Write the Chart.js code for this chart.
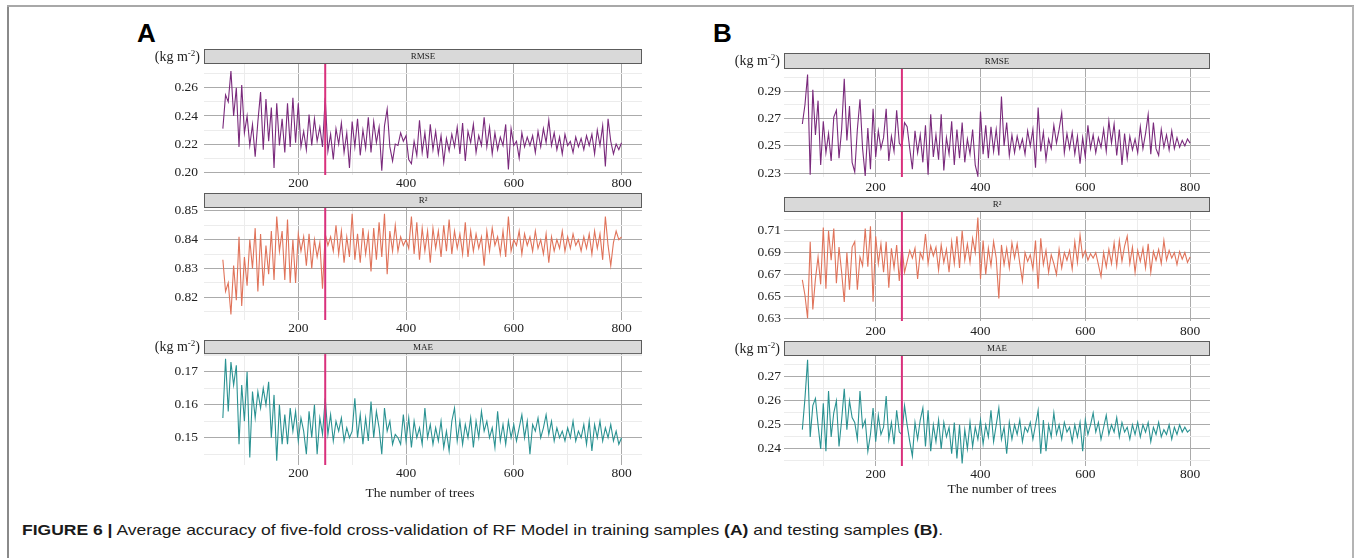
<!DOCTYPE html>
<html>
<head>
<meta charset="utf-8">
<script src="https://cdn.jsdelivr.net/npm/chart.js@4.4.1/dist/chart.umd.min.js"></script>
<style>
  html,body{margin:0;padding:0;background:#fff;}
  body{width:1357px;height:558px;position:relative;overflow:hidden;font-family:"Liberation Serif","DejaVu Serif",serif;color:#222;}
  canvas{position:absolute;}
  .txt{position:absolute;white-space:nowrap;line-height:18px;}
  .unit{font-size:14px;text-align:right;}
  .unit sup{font-size:9px;vertical-align:5px;line-height:0;}
  .ttl{font-size:13.5px;}
  .lab{position:absolute;font-family:"Liberation Sans",Arial,sans-serif;font-weight:bold;font-size:26px;line-height:26px;color:#000;}
  #frameL{position:absolute;left:7px;top:6px;width:2px;height:560px;background:#8a8a8a;}
  #frameT{position:absolute;left:7px;top:5px;width:1347px;height:2px;background:#a8a8a8;}
  #frameR{position:absolute;left:1352px;top:6px;width:2px;height:560px;background:#b4b4b4;}
  #cap{position:absolute;left:22px;top:521px;font-family:"Liberation Sans",Arial,sans-serif;font-size:15px;line-height:18px;white-space:nowrap;color:#1a1a1a;transform-origin:0 50%;}
</style>
</head>
<body>
<div id="frameL"></div><div id="frameT"></div><div id="frameR"></div>
<div class="lab" style="left:137px;top:20px;">A</div>
<div class="lab" style="left:713px;top:20px;">B</div>
<div id="cap"><b>FIGURE 6 |</b> Average accuracy of five-fold cross-validation of RF Model in training samples <b>(A)</b> and testing samples <b>(B)</b>.</div>

<script>
// ---------------- DATA ----------------
// number of trees: 60, 65, ..., 800
const trees = [];
for (let t = 60; t <= 800; t += 5) trees.push(t);

const cutoffTrees = 250;

const xTickMajor = [200, 400, 600, 800];
const xTickMinor = [100, 300, 500, 700];

// Training samples (A)
const trainRMSE = [
0.231,0.255,0.250,0.272,0.240,0.260,0.218,0.262,0.228,0.240,
0.219,0.234,0.211,0.236,0.257,0.216,0.252,0.222,0.246,0.203,
0.249,0.219,0.238,0.214,0.249,0.218,0.253,0.221,0.249,0.218,
0.229,0.216,0.241,0.219,0.238,0.222,0.232,0.218,0.253,0.215,
0.227,0.209,0.231,0.220,0.235,0.214,0.228,0.203,0.236,0.218,
0.238,0.212,0.230,0.217,0.239,0.214,0.236,0.221,0.232,0.201,
0.233,0.245,0.218,0.208,0.220,0.219,0.228,0.222,0.226,0.209,
0.206,0.222,0.212,0.237,0.214,0.228,0.210,0.234,0.216,0.229,
0.213,0.226,0.207,0.224,0.215,0.227,0.218,0.232,0.213,0.235,
0.208,0.229,0.221,0.234,0.214,0.226,0.219,0.239,0.218,0.232,
0.213,0.228,0.216,0.225,0.219,0.234,0.202,0.231,0.219,0.222,
0.210,0.228,0.218,0.225,0.219,0.226,0.214,0.229,0.218,0.231,
0.221,0.237,0.219,0.228,0.216,0.225,0.213,0.227,0.219,0.222,
0.214,0.225,0.218,0.224,0.216,0.226,0.219,0.227,0.213,0.230,
0.219,0.233,0.204,0.238,0.222,0.213,0.220,0.216,0.221];

const trainR2 = [
0.833,0.822,0.825,0.814,0.831,0.819,0.841,0.817,0.834,0.824,
0.840,0.830,0.844,0.822,0.842,0.824,0.838,0.828,0.843,0.826,
0.848,0.836,0.843,0.826,0.847,0.825,0.840,0.825,0.842,0.836,
0.841,0.831,0.842,0.830,0.840,0.834,0.839,0.823,0.842,0.838,
0.841,0.836,0.845,0.835,0.843,0.832,0.841,0.834,0.849,0.833,
0.842,0.832,0.844,0.835,0.842,0.829,0.844,0.833,0.846,0.834,
0.849,0.828,0.843,0.836,0.845,0.836,0.841,0.838,0.840,0.837,
0.848,0.835,0.846,0.833,0.844,0.836,0.843,0.832,0.844,0.837,
0.843,0.834,0.845,0.836,0.847,0.835,0.843,0.837,0.842,0.835,
0.846,0.834,0.843,0.836,0.842,0.837,0.841,0.831,0.843,0.836,
0.844,0.838,0.841,0.835,0.843,0.834,0.848,0.836,0.840,0.838,
0.843,0.835,0.842,0.838,0.841,0.836,0.843,0.837,0.840,0.835,
0.842,0.832,0.841,0.836,0.840,0.837,0.843,0.836,0.841,0.837,
0.842,0.838,0.840,0.836,0.841,0.837,0.842,0.835,0.843,0.837,
0.842,0.833,0.848,0.838,0.831,0.839,0.843,0.840,0.841];

const trainMAE = [
0.156,0.174,0.158,0.173,0.166,0.172,0.148,0.166,0.155,0.170,
0.144,0.164,0.156,0.164,0.159,0.165,0.160,0.167,0.150,0.163,
0.143,0.160,0.148,0.157,0.148,0.159,0.152,0.158,0.149,0.156,
0.152,0.145,0.158,0.150,0.160,0.145,0.156,0.151,0.162,0.151,
0.157,0.149,0.155,0.152,0.156,0.149,0.153,0.150,0.152,0.162,
0.150,0.157,0.148,0.156,0.149,0.161,0.150,0.158,0.153,0.145,
0.159,0.152,0.155,0.148,0.151,0.150,0.148,0.157,0.149,0.156,
0.147,0.155,0.150,0.153,0.148,0.159,0.150,0.154,0.148,0.153,
0.149,0.155,0.147,0.152,0.146,0.155,0.159,0.149,0.155,0.148,
0.154,0.150,0.156,0.147,0.155,0.150,0.158,0.152,0.155,0.150,
0.153,0.147,0.158,0.149,0.154,0.148,0.155,0.150,0.154,0.149,
0.153,0.157,0.150,0.155,0.145,0.154,0.152,0.156,0.150,0.153,
0.157,0.151,0.155,0.149,0.153,0.150,0.152,0.149,0.153,0.150,
0.155,0.149,0.152,0.150,0.154,0.148,0.155,0.146,0.154,0.150,
0.155,0.149,0.153,0.150,0.154,0.149,0.152,0.148,0.150];

// Testing samples (B)
const testRMSE = [
0.266,0.280,0.302,0.229,0.291,0.258,0.283,0.236,0.268,0.245,
0.259,0.239,0.271,0.276,0.241,0.262,0.299,0.254,0.279,0.238,
0.231,0.262,0.284,0.248,0.228,0.263,0.233,0.277,0.242,0.261,
0.248,0.256,0.277,0.239,0.257,0.246,0.276,0.252,0.249,0.267,
0.264,0.248,0.233,0.261,0.245,0.258,0.238,0.265,0.229,0.273,
0.242,0.258,0.240,0.273,0.232,0.256,0.244,0.268,0.236,0.262,
0.241,0.267,0.238,0.255,0.244,0.262,0.236,0.228,0.275,0.244,
0.265,0.241,0.264,0.246,0.262,0.243,0.286,0.250,0.267,0.243,
0.258,0.245,0.257,0.248,0.255,0.244,0.261,0.250,0.262,0.234,
0.278,0.246,0.260,0.240,0.255,0.248,0.265,0.252,0.262,0.274,
0.245,0.259,0.248,0.260,0.244,0.257,0.237,0.256,0.242,0.265,
0.248,0.258,0.245,0.256,0.249,0.262,0.246,0.268,0.252,0.266,
0.243,0.262,0.236,0.259,0.241,0.257,0.247,0.255,0.245,0.264,
0.248,0.259,0.273,0.244,0.267,0.248,0.243,0.262,0.249,0.258,
0.247,0.261,0.248,0.256,0.249,0.254,0.250,0.255,0.252];

const testR2 = [
0.665,0.651,0.630,0.700,0.638,0.666,0.686,0.661,0.713,0.657,
0.710,0.683,0.712,0.662,0.695,0.672,0.645,0.690,0.656,0.695,
0.700,0.656,0.686,0.678,0.712,0.677,0.714,0.645,0.705,0.680,
0.698,0.672,0.700,0.658,0.694,0.676,0.697,0.664,0.697,0.672,
0.682,0.692,0.685,0.694,0.666,0.690,0.684,0.707,0.680,0.696,
0.687,0.695,0.674,0.697,0.681,0.693,0.672,0.700,0.680,0.705,
0.676,0.710,0.683,0.698,0.681,0.703,0.690,0.722,0.666,0.701,
0.670,0.694,0.678,0.700,0.685,0.648,0.697,0.679,0.694,0.676,
0.699,0.685,0.698,0.680,0.664,0.690,0.682,0.688,0.675,0.701,
0.657,0.703,0.679,0.692,0.672,0.688,0.680,0.670,0.693,0.676,
0.690,0.683,0.692,0.675,0.700,0.681,0.706,0.686,0.692,0.683,
0.689,0.685,0.690,0.679,0.668,0.690,0.677,0.693,0.680,0.699,
0.678,0.701,0.682,0.696,0.705,0.680,0.695,0.672,0.692,0.682,
0.694,0.676,0.698,0.672,0.691,0.683,0.693,0.680,0.701,0.683,
0.692,0.685,0.690,0.679,0.691,0.684,0.690,0.681,0.686];

const testMAE = [
0.248,0.261,0.277,0.245,0.258,0.261,0.250,0.240,0.259,0.239,
0.264,0.245,0.255,0.260,0.241,0.252,0.265,0.248,0.260,0.253,
0.251,0.244,0.264,0.249,0.252,0.239,0.246,0.257,0.243,0.254,
0.246,0.249,0.262,0.244,0.251,0.242,0.256,0.247,0.246,0.258,
0.250,0.243,0.237,0.251,0.244,0.252,0.257,0.241,0.256,0.239,
0.250,0.243,0.252,0.240,0.251,0.245,0.249,0.238,0.251,0.236,
0.250,0.234,0.248,0.240,0.251,0.241,0.249,0.244,0.252,0.242,
0.250,0.245,0.256,0.243,0.250,0.257,0.244,0.249,0.238,0.251,
0.244,0.250,0.246,0.252,0.243,0.249,0.247,0.251,0.244,0.250,
0.256,0.238,0.252,0.239,0.250,0.245,0.255,0.246,0.250,0.244,
0.251,0.247,0.249,0.243,0.250,0.245,0.251,0.239,0.252,0.246,
0.250,0.255,0.247,0.251,0.244,0.249,0.254,0.246,0.250,0.247,
0.253,0.245,0.251,0.247,0.249,0.244,0.250,0.246,0.251,0.245,
0.250,0.247,0.251,0.243,0.249,0.246,0.251,0.245,0.248,0.246,
0.250,0.244,0.249,0.246,0.250,0.247,0.249,0.247,0.248];

// y tick labels (major) and minor grid values
const yMajorTrainRMSE = [0.20, 0.22, 0.24, 0.26];
const yMinorTrainRMSE = [0.21, 0.23, 0.25, 0.27];
const yMajorTrainR2   = [0.82, 0.83, 0.84, 0.85];
const yMinorTrainR2   = [0.815, 0.825, 0.835, 0.845];
const yMajorTrainMAE  = [0.15, 0.16, 0.17];
const yMinorTrainMAE  = [0.145, 0.155, 0.165, 0.175];
const yMajorTestRMSE  = [0.23, 0.25, 0.27, 0.29];
const yMinorTestRMSE  = [0.24, 0.26, 0.28, 0.30];
const yMajorTestR2    = [0.63, 0.65, 0.67, 0.69, 0.71];
const yMinorTestR2    = [0.64, 0.66, 0.68, 0.70, 0.72];
const yMajorTestMAE   = [0.24, 0.25, 0.26, 0.27];
const yMinorTestMAE   = [0.235, 0.245, 0.255, 0.265, 0.275];

// ---------------- LAYOUT / STYLE ----------------
const COL_RMSE = '#7a2a7c';
const COL_R2 = '#e0735a';
const COL_MAE = '#2a9292';
const COL_CUT = '#d9307c';

const panels = [
  {data: trainRMSE, color: COL_RMSE, strip: 'RMSE', unit: true, left: 204, right: 642, stripTop: 49, plotTop: 64, plotBottom: 175, labelY: 183, yMin: 0.198, yMax: 0.277, major: yMajorTrainRMSE, minor: yMinorTrainRMSE, ypad: 6},
  {data: trainR2, color: COL_R2, strip: 'R\u00B2', unit: false, left: 204, right: 642, stripTop: 193, plotTop: 208, plotBottom: 320, labelY: 328, yMin: 0.8121, yMax: 0.851, major: yMajorTrainR2, minor: yMinorTrainR2, ypad: 6},
  {data: trainMAE, color: COL_MAE, strip: 'MAE', unit: true, left: 204, right: 642, stripTop: 340, plotTop: 354, plotBottom: 465, labelY: 473, yMin: 0.1417, yMax: 0.1754, major: yMajorTrainMAE, minor: yMinorTrainMAE, ypad: 6, title: {x: 420, y: 493}},
  {data: testRMSE, color: COL_RMSE, strip: 'RMSE', unit: true, left: 784, right: 1210, stripTop: 53, plotTop: 69, plotBottom: 177, labelY: 188, yMin: 0.2273, yMax: 0.3061, major: yMajorTestRMSE, minor: yMinorTestRMSE, ypad: 3},
  {data: testR2, color: COL_R2, strip: 'R\u00B2', unit: false, left: 784, right: 1210, stripTop: 197, plotTop: 212, plotBottom: 321, labelY: 332, yMin: 0.6275, yMax: 0.7271, major: yMajorTestR2, minor: yMinorTestR2, ypad: 3},
  {data: testMAE, color: COL_MAE, strip: 'MAE', unit: true, left: 784, right: 1210, stripTop: 341, plotTop: 356, plotBottom: 466, labelY: 474, yMin: 0.2329, yMax: 0.2786, major: yMajorTestMAE, minor: yMinorTestMAE, ypad: 3, title: {x: 1002, y: 489}}
];

const X_MIN = 25, X_MAX = 838;
const AXW = 70, RPAD = 3, XH = 24;
const tickFont = {family: '"Liberation Serif", serif', size: 13.5};

const panelPlugin = {
  id: 'panelDeco',
  beforeDraw(chart, args, opts) {
    const {ctx, chartArea: a} = chart;
    ctx.save();
    ctx.fillStyle = '#d9d9d9';
    ctx.fillRect(a.left, 0, a.right - a.left, a.top);
    ctx.strokeStyle = '#5c5c5c';
    ctx.lineWidth = 1;
    ctx.strokeRect(a.left + 0.5, 0.5, a.right - a.left - 1, a.top - 1);
    ctx.fillStyle = '#222';
    ctx.font = '9px "Liberation Serif", serif';
    ctx.textAlign = 'center';
    ctx.textBaseline = 'middle';
    ctx.fillText(opts.text, (a.left + a.right) / 2, a.top / 2 + 0.5);
    ctx.restore();
  },
  afterDatasetsDraw(chart, args, opts) {
    const {ctx, chartArea: a, scales} = chart;
    const x = scales.x.getPixelForValue(opts.cut);
    ctx.save();
    ctx.strokeStyle = COL_CUT;
    ctx.lineWidth = 2;
    ctx.beginPath();
    ctx.moveTo(x, a.top);
    ctx.lineTo(x, a.bottom);
    ctx.stroke();
    ctx.restore();
  }
};

function tickList(major, minor) {
  const list = major.map(v => ({value: v, m: true})).concat(minor.map(v => ({value: v, m: false})));
  list.sort((p, q) => p.value - q.value);
  return list;
}

panels.forEach((p, i) => {
  const cv = document.createElement('canvas');
  const w = (p.right - p.left) + AXW + RPAD;
  const h = (p.plotBottom - p.stripTop) + XH;
  cv.width = w; cv.height = h;
  cv.style.width = w + 'px'; cv.style.height = h + 'px';
  cv.style.left = (p.left - AXW) + 'px';
  cv.style.top = p.stripTop + 'px';
  document.body.appendChild(cv);

  const xpad = Math.max(0, (p.labelY - p.plotBottom) - 8.4);

  new Chart(cv.getContext('2d'), {
    type: 'line',
    data: {
      datasets: [{
        data: p.data.map((v, k) => ({x: trees[k], y: v})),
        borderColor: p.color,
        borderWidth: 1.1,
        pointRadius: 0,
        fill: false,
        tension: 0
      }]
    },
    options: {
      responsive: false,
      animation: false,
      devicePixelRatio: 1,
      events: [],
      layout: {padding: {top: p.plotTop - p.stripTop, left: 0, right: RPAD, bottom: 0}},
      plugins: {
        legend: {display: false},
        tooltip: {enabled: false},
        title: {display: false},
        panelDeco: {text: p.strip, cut: cutoffTrees}
      },
      scales: {
        x: {
          type: 'linear',
          min: X_MIN, max: X_MAX,
          afterFit(s) { s.height = XH; },
          afterBuildTicks(s) { s.ticks = tickList(xTickMajor, xTickMinor); },
          border: {display: false},
          grid: {
            drawTicks: false,
            color: c => (c.tick && c.tick.m) ? '#ababab' : '#ececec',
            lineWidth: 1
          },
          ticks: {
            autoSkip: false, maxRotation: 0, padding: xpad,
            font: tickFont, color: '#222',
            callback: (v, k, ts) => ts[k].m ? String(v) : ''
          }
        },
        y: {
          type: 'linear',
          min: p.yMin, max: p.yMax,
          afterFit(s) { s.width = AXW; },
          afterBuildTicks(s) { s.ticks = tickList(p.major, p.minor); },
          border: {display: false},
          grid: {
            drawTicks: false,
            color: c => (c.tick && c.tick.m) ? '#ababab' : '#ececec',
            lineWidth: 1
          },
          ticks: {
            autoSkip: false, padding: p.ypad,
            font: tickFont, color: '#222',
            callback: (v, k, ts) => ts[k].m ? v.toFixed(2) : ''
          }
        }
      }
    },
    plugins: [panelPlugin]
  });

  if (p.unit) {
    const d = document.createElement('div');
    d.className = 'txt unit';
    d.innerHTML = '(kg m<sup>-2</sup>)';
    d.style.right = (1357 - (p.left - 4)) + 'px';
    d.style.top = ((p.stripTop + p.plotTop) / 2 - 9) + 'px';
    document.body.appendChild(d);
  }
  if (p.title) {
    const d = document.createElement('div');
    d.className = 'txt ttl';
    d.textContent = 'The number of trees';
    document.body.appendChild(d);
    const bw = d.getBoundingClientRect().width;
    d.style.left = (p.title.x - bw / 2) + 'px';
    d.style.top = (p.title.y - 9) + 'px';
  }
});

// fit caption width to the reference span
const cap = document.getElementById('cap');
const cw = cap.getBoundingClientRect().width;
cap.style.transform = 'scaleX(' + (921 / cw).toFixed(4) + ')';
</script>
</body>
</html>
